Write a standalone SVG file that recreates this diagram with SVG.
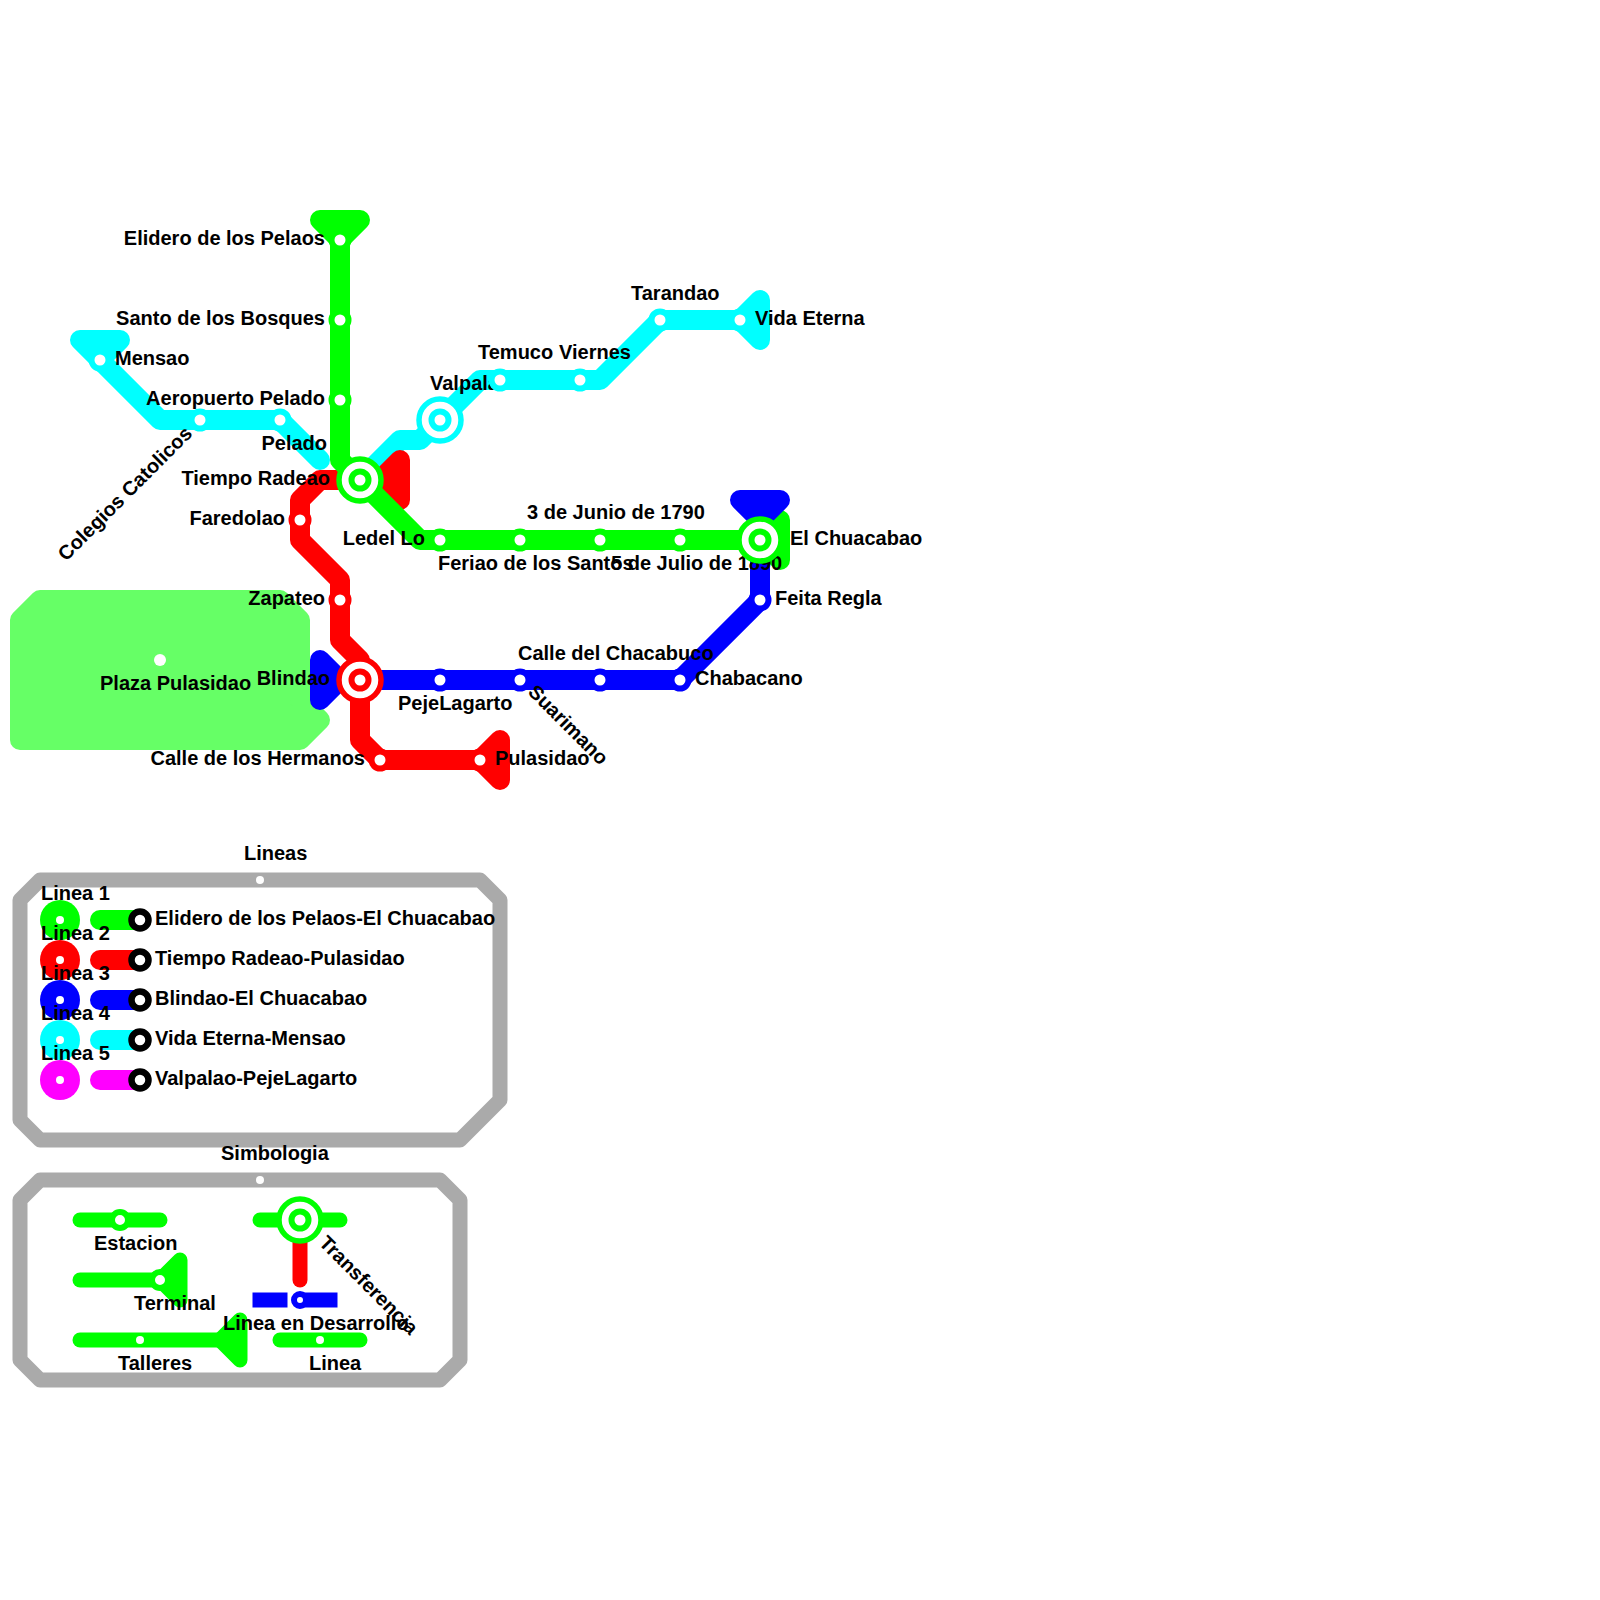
<svg xmlns="http://www.w3.org/2000/svg" width="1600" height="1600" viewBox="0 0 1600 1600">
<style>
text{font-family:"Liberation Sans",Arial,sans-serif;font-size:20px;font-weight:bold;fill:#000}
.e{text-anchor:end}
.l{fill:none;stroke-width:20;stroke-linecap:round;stroke-linejoin:round}
.s{stroke-width:15}
.g{stroke:#0f0}.r{stroke:#f00}.b{stroke:#00f}.c{stroke:#0ff}.m{stroke:#f0f}.y{stroke:#aaa}
.fg{fill:#0f0}.fr{fill:#f00}.fb{fill:#00f}.fc{fill:#0ff}.fm{fill:#f0f}
.st{fill:#fff;stroke-width:6}
.d{fill:#fff}
.x{fill:#fff;stroke:#000;stroke-width:6.5}
.h1{fill:#fff;stroke-width:5.5}
.h2{fill:#fff;stroke-width:6}
</style>
<g id="parque"><polygon points="40,600 20,620 20,740 300,740 320,720 300,700 300,620 280,600" fill="#66ff66" stroke="#66ff66" stroke-width="20" stroke-linejoin="round"/></g>
<g id="connectors">
<polyline class="l c" points="100,360 160,420 280,420 320,460"/>
<polygon class="l c fc" points="80,340 120,340 100,360"/>
<polyline class="l c" points="360,480 400,440 420,440 440,420 480,380 500,380"/>
<polyline class="l r" points="380,480 320,480 300,500 300,540 340,580 340,640 360,660 360,740 380,760 480,760"/>
<polygon class="l r fr" points="400,460 400,500 380,480"/>
<polygon class="l r fr" points="500,740 500,780 480,760"/>
<polyline class="l g" points="340,240 340,460 360,480 420,540 760,540"/>
<polygon class="l g fg" points="320,220 360,220 340,240"/>
<polygon class="l g fg" points="780,520 780,560 760,540"/>
<polyline class="l b" points="340,680 680,680 760,600 760,520"/>
<polygon class="l b fb" points="320,660 320,700 340,680"/>
<polygon class="l b fb" points="740,500 780,500 760,520"/>
</g>
<g id="n-valpalao-label"><text x="430" y="390">Valpalao</text></g>
<g id="connectors-upper">
<polyline class="l c" points="500,380 600,380 660,320 740,320"/>
<polygon class="l c fc" points="760,300 760,340 740,320"/>
</g>
<g id="n-elidero"><circle class="st g" cx="340" cy="240" r="8.5"/><text class="e" x="325" y="245">Elidero de los Pelaos</text></g>
<g id="n-santo"><circle class="st g" cx="340" cy="320" r="8.5"/><text class="e" x="325" y="325">Santo de los Bosques</text></g>
<g id="n-aeropuerto"><circle class="st g" cx="340" cy="400" r="8.5"/><text class="e" x="325" y="405">Aeropuerto Pelado</text></g>
<g id="n-mensao"><circle class="st c" cx="100" cy="360" r="8.5"/><text x="115" y="365">Mensao</text></g>
<g id="n-colegios"><circle class="st c" cx="200" cy="420" r="8.5"/><text transform="translate(66,562) rotate(-45)">Colegios Catolicos</text></g>
<g id="n-pelado"><circle class="st c" cx="280" cy="420" r="8.5"/><text class="e" x="327" y="450">Pelado</text></g>
<g id="n-temuco"><circle class="st c" cx="500" cy="380" r="8.5"/><text x="478" y="359">Temuco</text></g>
<g id="n-viernes"><circle class="st c" cx="580" cy="380" r="8.5"/><text x="559" y="359">Viernes</text></g>
<g id="n-tarandao"><circle class="st c" cx="660" cy="320" r="8.5"/><text x="631" y="300">Tarandao</text></g>
<g id="n-vida"><circle class="st c" cx="740" cy="320" r="8.5"/><text x="755" y="325">Vida Eterna</text></g>
<g id="n-faredolao"><circle class="st r" cx="300" cy="520" r="8.5"/><text class="e" x="285" y="525">Faredolao</text></g>
<g id="n-zapateo"><circle class="st r" cx="340" cy="600" r="8.5"/><text class="e" x="325" y="605">Zapateo</text></g>
<g id="n-hermanos"><circle class="st r" cx="380" cy="760" r="8.5"/><text class="e" x="365" y="765">Calle de los Hermanos</text></g>
<g id="n-pulasidao"><circle class="st r" cx="480" cy="760" r="8.5"/><text x="495" y="765">Pulasidao</text></g>
<g id="n-ledel"><circle class="st g" cx="440" cy="540" r="8.5"/><text class="e" x="425" y="545">Ledel Lo</text></g>
<g id="n-feriao"><circle class="st g" cx="520" cy="540" r="8.5"/><text x="438" y="570">Feriao de los Santos</text></g>
<g id="n-junio"><circle class="st g" cx="600" cy="540" r="8.5"/><text x="527" y="519">3 de Junio de 1790</text></g>
<g id="n-julio"><circle class="st g" cx="680" cy="540" r="8.5"/><text x="611" y="570">5 de Julio de 1890</text></g>
<g id="n-pejelagarto"><circle class="st b" cx="440" cy="680" r="8.5"/><text x="398" y="710">PejeLagarto</text></g>
<g id="n-suarimano"><circle class="st b" cx="520" cy="680" r="8.5"/><text transform="translate(527,693) rotate(45)">Suarimano</text></g>
<g id="n-chacabuco"><circle class="st b" cx="600" cy="680" r="8.5"/><text x="518" y="660">Calle del Chacabuco</text></g>
<g id="n-chabacano"><circle class="st b" cx="680" cy="680" r="8.5"/><text x="695" y="685">Chabacano</text></g>
<g id="n-feita"><circle class="st b" cx="760" cy="600" r="8.5"/><text x="775" y="605">Feita Regla</text></g>
<g id="n-plaza"><circle class="d" cx="160" cy="660" r="6"/><text x="100" y="690">Plaza Pulasidao</text></g>
<g id="n-tiempo"><text class="e" x="330" y="485">Tiempo Radeao</text><circle class="h1 g" cx="360" cy="480" r="21"/><circle class="h2 g" cx="360" cy="480" r="8.5"/></g>
<g id="n-valpalao"><circle class="h1 c" cx="440" cy="420" r="21"/><circle class="h2 c" cx="440" cy="420" r="8.5"/></g>
<g id="n-blindao"><text class="e" x="330" y="685">Blindao</text><circle class="h1 r" cx="360" cy="680" r="21"/><circle class="h2 r" cx="360" cy="680" r="8.5"/></g>
<g id="n-chuacabao"><circle class="h1 g" cx="760" cy="540" r="21"/><circle class="h2 g" cx="760" cy="540" r="8.5"/><text x="790" y="545">El Chuacabao</text></g>
<g id="leyenda-lineas">
<polygon class="l s y" points="40,880 480,880 500,900 500,1100 460,1140 40,1140 20,1120 20,900"/>
<circle class="d" cx="260" cy="880" r="4"/><text x="244" y="860">Lineas</text>
<g id="linea-1"><circle class="fg" cx="60" cy="920" r="20"/><circle class="d" cx="60" cy="920" r="4"/><text x="41" y="900">Linea 1</text><line class="l g" x1="100" y1="920" x2="140" y2="920"/><circle class="x" cx="140" cy="920" r="8.5"/><text x="155" y="925">Elidero de los Pelaos-El Chuacabao</text></g>
<g id="linea-2"><circle class="fr" cx="60" cy="960" r="20"/><circle class="d" cx="60" cy="960" r="4"/><text x="41" y="940">Linea 2</text><line class="l r" x1="100" y1="960" x2="140" y2="960"/><circle class="x" cx="140" cy="960" r="8.5"/><text x="155" y="965">Tiempo Radeao-Pulasidao</text></g>
<g id="linea-3"><circle class="fb" cx="60" cy="1000" r="20"/><circle class="d" cx="60" cy="1000" r="4"/><text x="41" y="980">Linea 3</text><line class="l b" x1="100" y1="1000" x2="140" y2="1000"/><circle class="x" cx="140" cy="1000" r="8.5"/><text x="155" y="1005">Blindao-El Chuacabao</text></g>
<g id="linea-4"><circle class="fc" cx="60" cy="1040" r="20"/><circle class="d" cx="60" cy="1040" r="4"/><text x="41" y="1020">Linea 4</text><line class="l c" x1="100" y1="1040" x2="140" y2="1040"/><circle class="x" cx="140" cy="1040" r="8.5"/><text x="155" y="1045">Vida Eterna-Mensao</text></g>
<g id="linea-5"><circle class="fm" cx="60" cy="1080" r="20"/><circle class="d" cx="60" cy="1080" r="4"/><text x="41" y="1060">Linea 5</text><line class="l m" x1="100" y1="1080" x2="140" y2="1080"/><circle class="x" cx="140" cy="1080" r="8.5"/><text x="155" y="1085">Valpalao-PejeLagarto</text></g>
</g>
<g id="leyenda-simbologia">
<polygon class="l s y" points="40,1180 440,1180 460,1200 460,1360 440,1380 40,1380 20,1360 20,1200"/>
<circle class="d" cx="260" cy="1180" r="4"/><text x="221" y="1160">Simbologia</text>
<g id="s-estacion"><line class="l s g" x1="80" y1="1220" x2="160" y2="1220"/><circle class="st g" cx="120" cy="1220" r="8" stroke-width="4.5"/><text x="94" y="1250">Estacion</text></g>
<g id="s-terminal"><line class="l s g" x1="80" y1="1280" x2="160" y2="1280"/><polygon class="l s g fg" points="180,1260 180,1300 160,1280"/><circle class="st g" cx="160" cy="1280" r="8" stroke-width="4.5"/><text x="134" y="1310">Terminal</text></g>
<g id="s-talleres"><line class="l s g" x1="80" y1="1340" x2="220" y2="1340"/><polygon class="l s g fg" points="240,1320 240,1360 220,1340"/><circle class="d" cx="140" cy="1340" r="4"/><text x="118" y="1370">Talleres</text></g>
<g id="s-linea"><line class="l s g" x1="280" y1="1340" x2="360" y2="1340"/><circle class="d" cx="320" cy="1340" r="4"/><text x="309" y="1370">Linea</text></g>
<g id="s-transferencia"><line class="l s g" x1="260" y1="1220" x2="340" y2="1220"/><line class="l s r" x1="300" y1="1220" x2="300" y2="1280"/><circle class="h1 g" cx="300" cy="1220" r="21"/><circle class="h2 g" cx="300" cy="1220" r="8.5"/><text transform="translate(318,1244) rotate(45)">Transferencia</text></g>
<g id="s-desarrollo"><rect x="252.500" y="1292.500" width="35" height="15" class="fb"/><rect x="300" y="1292.500" width="37.500" height="15" class="fb"/><circle class="st b" cx="300" cy="1300" r="6" stroke-width="3.5"/><text x="223" y="1330">Linea en Desarrollo</text></g>
</g>
</svg>
